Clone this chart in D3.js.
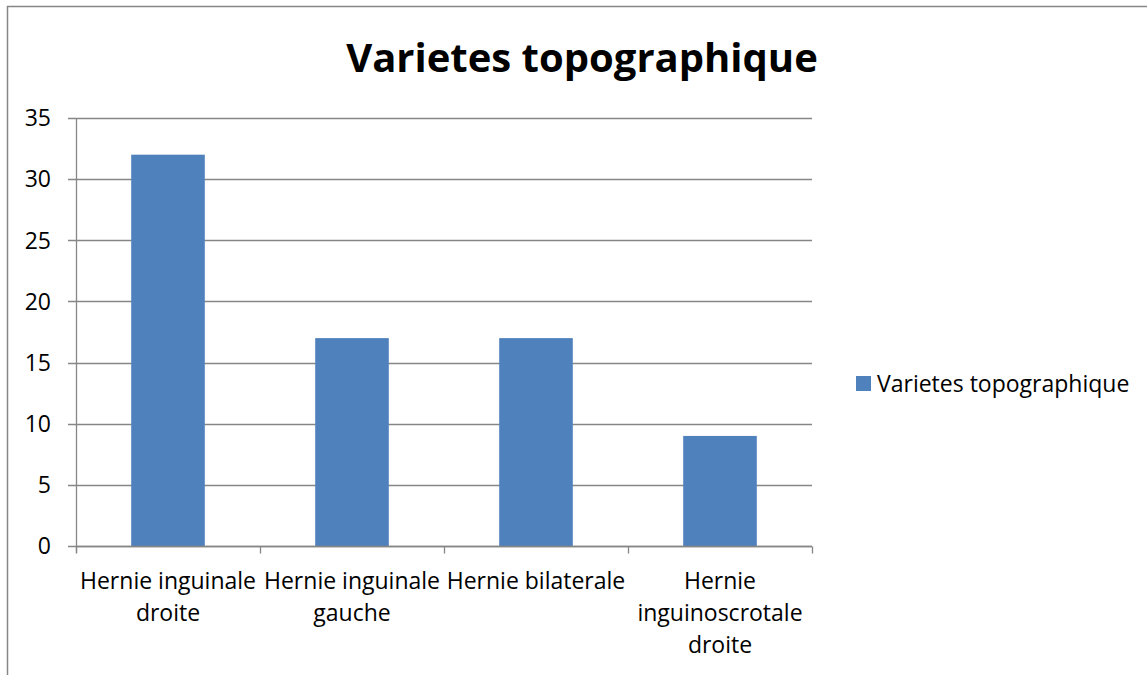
<!DOCTYPE html>
<html>
<head>
<meta charset="utf-8">
<script src="https://cdn.jsdelivr.net/npm/d3@7"></script>
<style>
  body { margin: 0; background: #fff; }
  text { font-family: "Open Sans", "Noto Sans", sans-serif; fill: #000; }
</style>
</head>
<body>
<div id="chart"></div>
<script>
// data
var categories = ["Hernie inguinale\ndroite", "Hernie inguinale\ngauche", "Hernie bilaterale", "Hernie\ninguinoscrotale\ndroite"];
var values = [32, 17, 17, 9];
var yTicks = [0, 5, 10, 15, 20, 25, 30, 35];
var seriesName = "Varietes topographique";
var chartTitle = "Varietes topographique";

var width = 1147, height = 675;
var margin = { left: 76, right: 335, top: 118, bottom: 129 };
var fontSize = 23;

var svg = d3.select("#chart").append("svg")
    .attr("width", width)
    .attr("height", height);

// outer chart border (runs off the right and bottom)
svg.append("rect")
    .attr("x", 7.5).attr("y", 6.5)
    .attr("width", width + 10).attr("height", height + 10)
    .attr("fill", "none")
    .attr("stroke", "#868686")
    .attr("stroke-width", 1.5);

var x = d3.scaleBand()
    .domain(categories)
    .range([margin.left, width - margin.right])
    .paddingInner(0.6)
    .paddingOuter(0.3);

var band = d3.scaleBand()
    .domain(categories)
    .range([margin.left, width - margin.right]);

var y = d3.scaleLinear()
    .domain([0, 35])
    .range([height - margin.bottom, margin.top]);

// gridlines
svg.append("g")
    .selectAll("line")
    .data(yTicks)
    .enter().append("line")
    .attr("x1", margin.left - 8)
    .attr("x2", width - margin.right)
    .attr("y1", function(d) { return Math.round(y(d)) + 0.5; })
    .attr("y2", function(d) { return Math.round(y(d)) + 0.5; })
    .attr("stroke", "#868686")
    .attr("stroke-width", 1.3);

// y labels
svg.append("g")
    .selectAll("text")
    .data(yTicks)
    .enter().append("text")
    .attr("x", margin.left - 25)
    .attr("y", function(d) { return y(d); })
    .attr("dy", "0.36em")
    .attr("text-anchor", "end")
    .style("font-size", fontSize + "px")
    .text(function(d) { return d; });

// bars
svg.append("g")
    .selectAll("rect")
    .data(values)
    .enter().append("rect")
    .attr("x", function(d, i) { return x(categories[i]); })
    .attr("width", x.bandwidth())
    .attr("y", function(d) { return y(d); })
    .attr("height", function(d) { return y(0) - y(d); })
    .attr("fill", "#4F81BD");

// y axis line
svg.append("line")
    .attr("x1", margin.left + 0.5).attr("x2", margin.left + 0.5)
    .attr("y1", margin.top).attr("y2", y(0) + 7)
    .attr("stroke", "#868686")
    .attr("stroke-width", 1.3);

// x axis line + ticks
var y0 = Math.round(y(0)) + 0.5;
svg.append("line")
    .attr("x1", margin.left).attr("x2", width - margin.right)
    .attr("y1", y0).attr("y2", y0)
    .attr("stroke", "#868686")
    .attr("stroke-width", 1.3);

var bounds = categories.map(function(c) { return band(c); }).concat([width - margin.right]);
svg.append("g")
    .selectAll("line")
    .data(bounds)
    .enter().append("line")
    .attr("x1", function(d) { return Math.round(d) + 0.5; })
    .attr("x2", function(d) { return Math.round(d) + 0.5; })
    .attr("y1", y0).attr("y2", y0 + 7)
    .attr("stroke", "#868686")
    .attr("stroke-width", 1.3);

// category labels
var labels = svg.append("g")
    .selectAll("text")
    .data(categories)
    .enter().append("text")
    .attr("text-anchor", "middle")
    .style("font-size", fontSize + "px");

labels.each(function(c) {
    var t = d3.select(this);
    c.split("\n").forEach(function(line, k) {
        t.append("tspan")
            .attr("x", band(c) + band.bandwidth() / 2)
            .attr("y", 589 + k * 32)
            .text(line);
    });
});

// title
svg.append("text")
    .attr("x", 582)
    .attr("y", 72)
    .attr("text-anchor", "middle")
    .style("font-size", "40px")
    .style("font-weight", "bold")
    .text(chartTitle);

// legend
svg.append("rect")
    .attr("x", 856).attr("y", 376)
    .attr("width", 15).attr("height", 15)
    .attr("fill", "#4F81BD");
svg.append("text")
    .attr("x", 877).attr("y", 392)
    .style("font-size", fontSize + "px")
    .text(seriesName);
</script>
</body>
</html>
